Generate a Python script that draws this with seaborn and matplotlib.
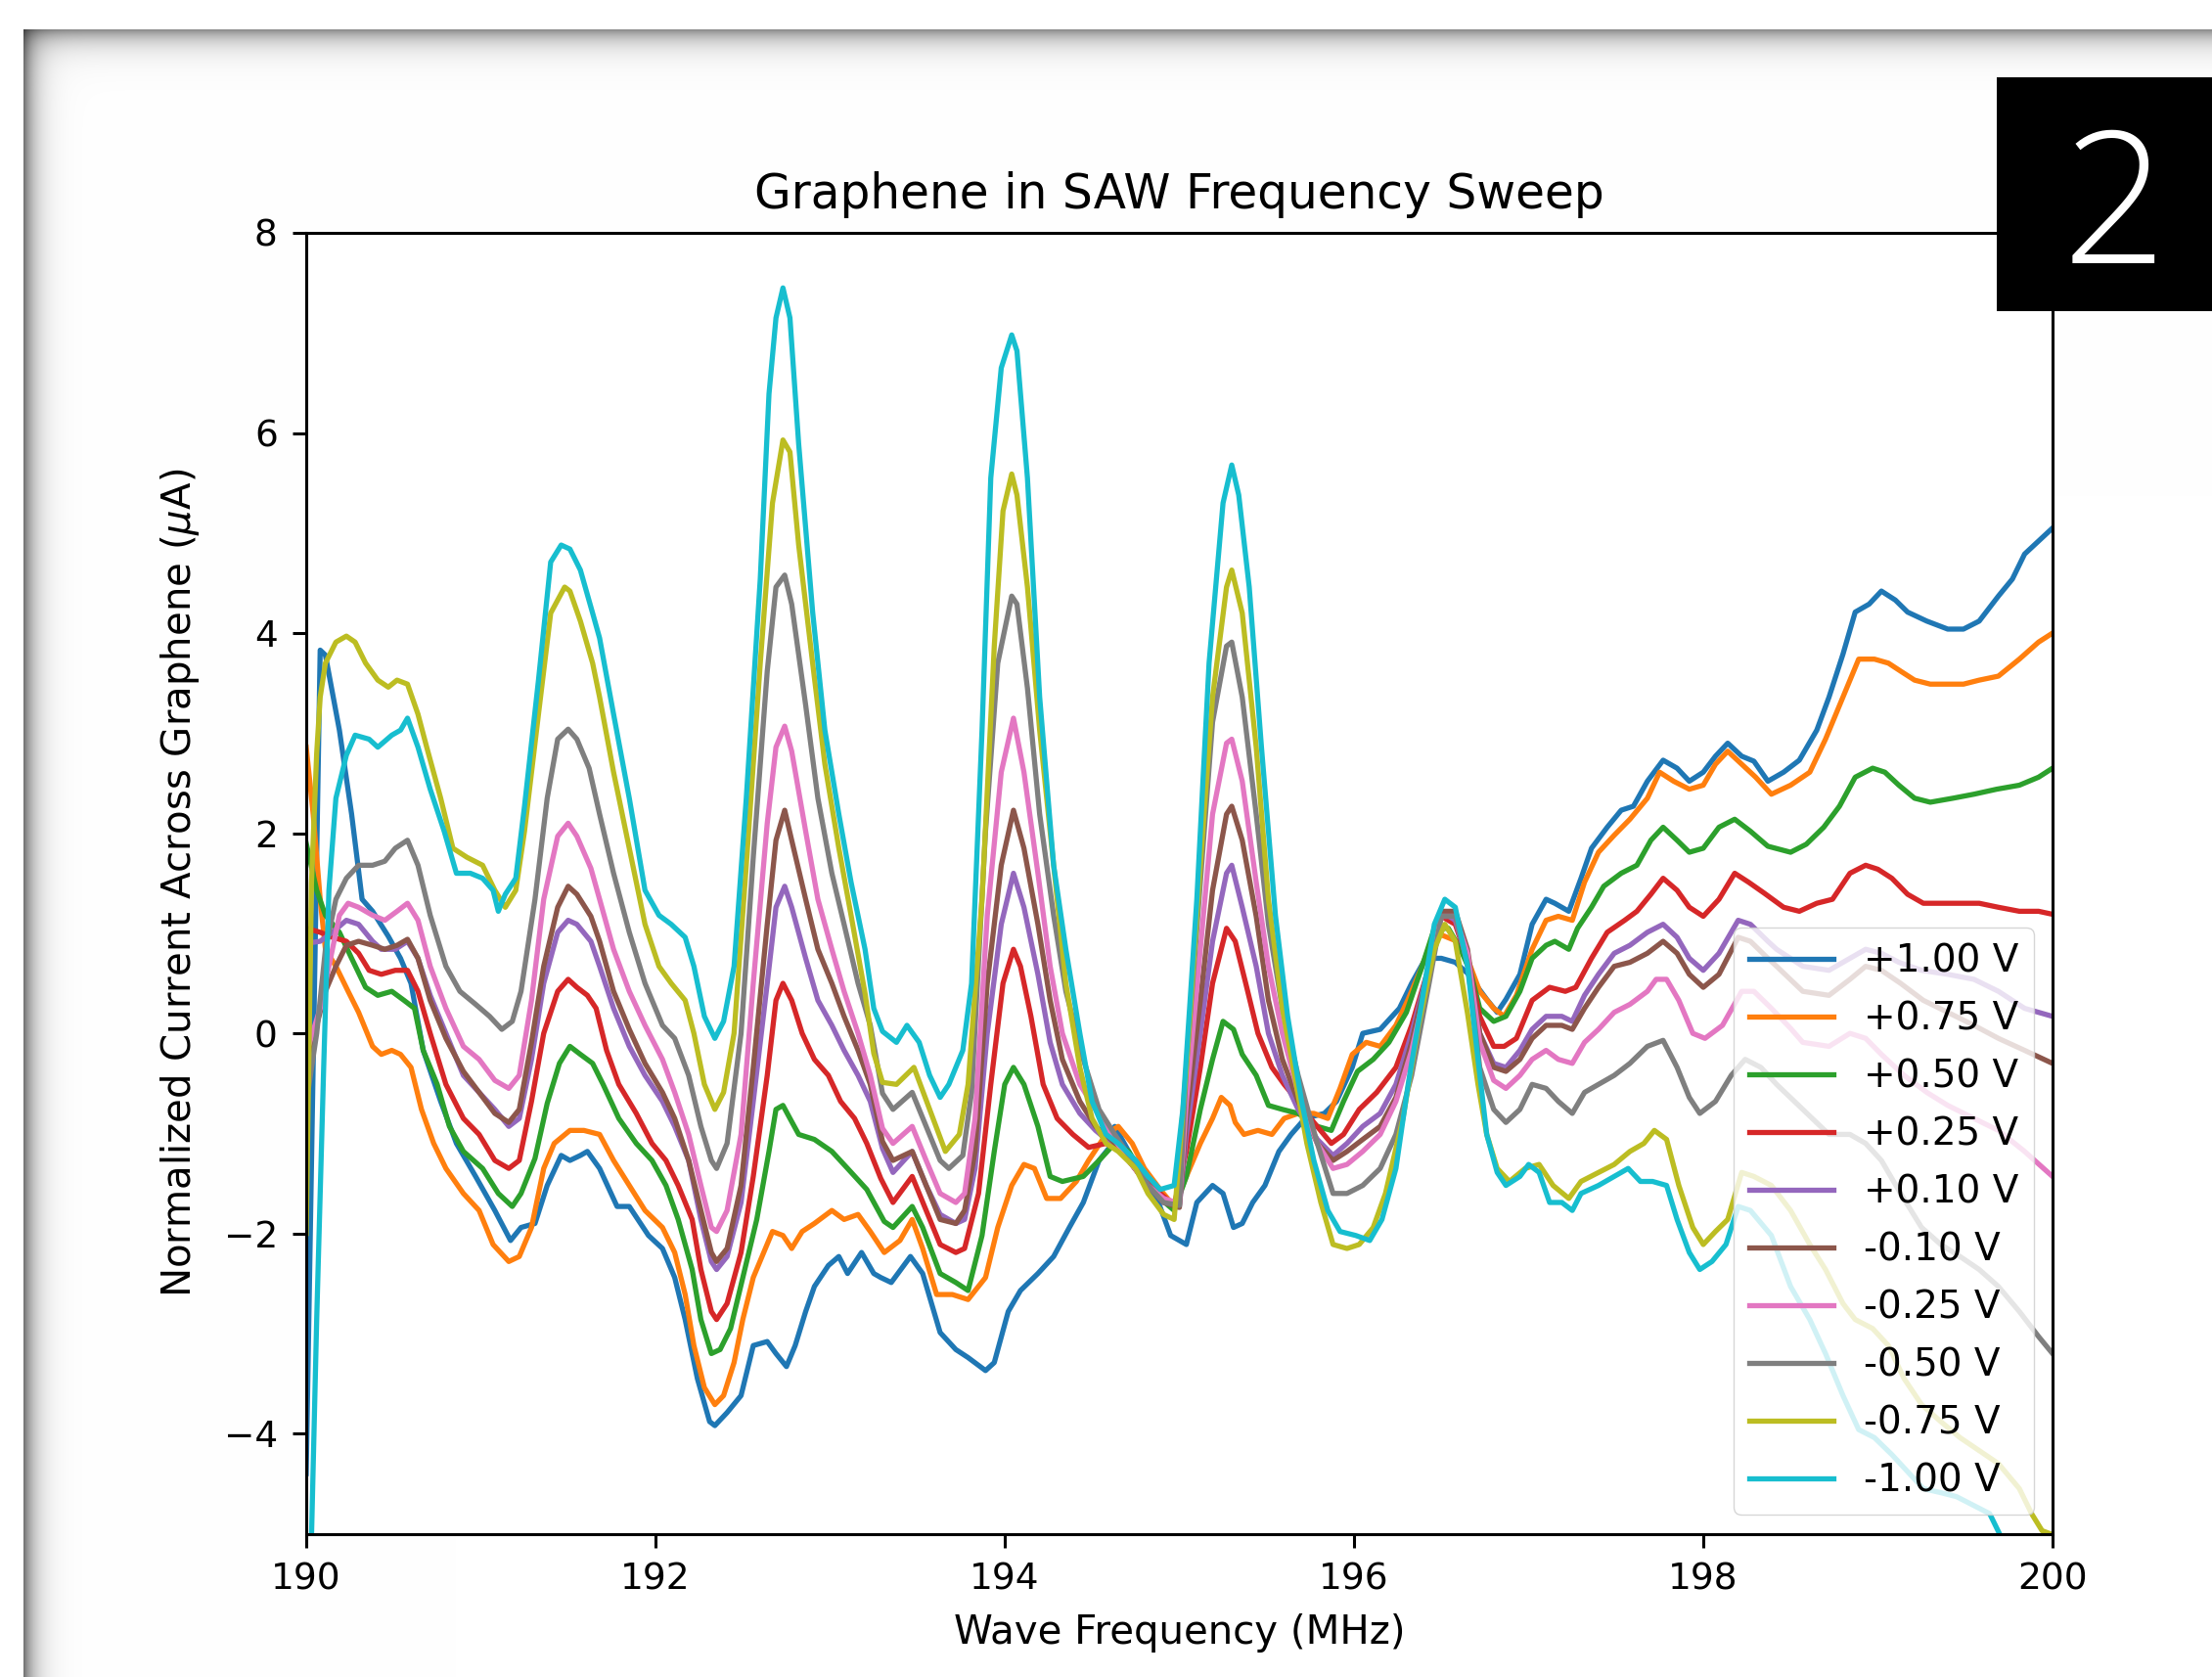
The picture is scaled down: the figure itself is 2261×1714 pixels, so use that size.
import numpy as np
import matplotlib
matplotlib.use("Agg")
import matplotlib.pyplot as plt
import seaborn as sns
from matplotlib.patches import Rectangle

# ---------------- data ----------------
f_p100 = [190.00,190.08,190.11,190.19,190.26,190.32,190.38,190.47,190.54,190.60,190.67,190.77,190.86,190.97,191.08,191.17,191.23,191.31,191.38,191.46,191.51,191.57,
          191.61,191.68,191.78,191.85,191.96,192.04,192.11,192.17,192.24,192.31,192.34,192.41,192.49,192.56,192.64,192.69,192.75,192.80,192.86,192.91,192.99,193.05,193.10,193.18,193.25,
          193.29,193.35,193.46,193.53,193.63,193.72,193.79,193.89,193.94,194.02,194.09,194.19,194.28,194.37,194.45,194.54,194.60,194.63,194.71,194.78,194.88,194.95,
          195.04,195.10,195.19,195.25,195.31,195.36,195.42,195.49,195.57,195.64,195.72,195.83,195.90,195.99,196.05,196.15,196.26,196.33,196.41,196.50,196.58,
          196.65,196.76,196.82,196.87,196.95,197.02,197.10,197.15,197.23,197.30,197.36,197.45,197.53,197.60,197.68,197.77,197.85,197.92,198.00,198.07,198.14,198.22,
          198.29,198.37,198.46,198.55,198.65,198.72,198.80,198.87,198.95,199.02,199.10,199.17,199.28,199.40,199.49,199.58,199.69,199.77,199.84,199.92,200.00]
i_p100 = [-4.40,3.83,3.78,3.03,2.19,1.34,1.22,0.97,0.75,0.50,-0.17,-0.68,-1.10,-1.43,-1.77,-2.07,-1.94,-1.90,-1.52,-1.22,-1.27,-1.22,
          -1.18,-1.35,-1.73,-1.73,-2.02,-2.15,-2.44,-2.86,-3.45,-3.88,-3.92,-3.79,-3.62,-3.12,-3.08,-3.20,-3.33,-3.12,-2.78,-2.53,-2.32,-2.23,-2.40,-2.19,-2.40,
          -2.44,-2.49,-2.23,-2.40,-2.99,-3.16,-3.24,-3.37,-3.29,-2.78,-2.57,-2.40,-2.23,-1.94,-1.69,-1.27,-1.14,-0.93,-1.18,-1.43,-1.69,-2.02,
          -2.11,-1.69,-1.52,-1.60,-1.94,-1.90,-1.69,-1.52,-1.18,-1.01,-0.85,-0.80,-0.68,-0.34,0.00,0.04,0.25,0.50,0.75,0.75,0.71,
          0.60,0.34,0.21,0.34,0.59,1.09,1.34,1.30,1.22,1.55,1.85,2.06,2.23,2.27,2.52,2.73,2.65,2.52,2.61,2.77,2.90,2.77,
          2.72,2.52,2.61,2.73,3.03,3.36,3.79,4.21,4.29,4.42,4.33,4.21,4.12,4.04,4.04,4.12,4.37,4.54,4.79,4.92,5.05]

f_p075 = [190.00,190.04,190.08,190.11,190.17,190.24,190.30,190.38,190.43,190.49,190.54,190.60,190.66,190.73,190.80,190.90,190.99,191.07,191.16,191.22,191.29,191.36,191.42,191.51,191.59,
          191.68,191.76,191.85,191.94,192.04,192.11,192.17,192.22,192.28,192.34,192.39,192.45,192.50,192.56,192.62,192.67,192.73,192.78,192.84,192.91,193.01,193.08,193.16,193.23,
          193.31,193.40,193.47,193.53,193.61,193.70,193.79,193.89,193.96,194.04,194.11,194.17,194.24,194.32,194.41,194.48,194.58,194.65,194.73,194.80,194.89,
          194.97,195.04,195.12,195.19,195.24,195.29,195.32,195.37,195.45,195.53,195.60,195.68,195.77,195.85,195.92,195.99,196.07,196.15,196.24,196.31,196.39,196.46,196.52,196.59,
          196.66,196.72,196.80,196.86,196.93,197.02,197.10,197.17,197.25,197.32,197.40,197.49,197.58,197.68,197.75,197.83,197.92,198.00,198.07,198.14,198.22,
          198.30,198.39,198.50,198.61,198.70,198.80,198.89,198.98,199.06,199.13,199.21,199.30,199.40,199.49,199.58,199.69,199.81,199.92,200.00]
i_p075 = [2.86,2.19,1.34,0.84,0.67,0.42,0.21,-0.13,-0.21,-0.17,-0.21,-0.34,-0.76,-1.10,-1.35,-1.60,-1.77,-2.11,-2.28,-2.23,-1.94,-1.35,-1.10,-0.97,-0.97,
          -1.01,-1.27,-1.52,-1.77,-1.94,-2.19,-2.61,-3.12,-3.54,-3.71,-3.62,-3.29,-2.86,-2.44,-2.19,-1.98,-2.02,-2.15,-1.98,-1.90,-1.77,-1.86,-1.81,-1.98,
          -2.19,-2.07,-1.86,-2.15,-2.61,-2.61,-2.66,-2.44,-1.94,-1.52,-1.31,-1.35,-1.65,-1.65,-1.48,-1.27,-1.01,-0.93,-1.10,-1.35,-1.56,
          -1.73,-1.43,-1.10,-0.85,-0.64,-0.72,-0.89,-1.01,-0.97,-1.01,-0.85,-0.80,-0.80,-0.85,-0.55,-0.21,-0.09,-0.13,0.08,0.34,0.67,1.01,0.97,0.92,
          0.70,0.42,0.25,0.17,0.38,0.84,1.13,1.17,1.13,1.51,1.81,1.98,2.14,2.35,2.61,2.52,2.44,2.48,2.69,2.82,2.69,
          2.56,2.39,2.48,2.61,2.94,3.36,3.74,3.74,3.70,3.62,3.53,3.49,3.49,3.49,3.53,3.57,3.74,3.91,4.00]

f_p050 = [190.00,190.06,190.11,190.19,190.26,190.34,190.41,190.49,190.56,190.62,190.67,190.75,190.82,190.90,191.01,191.10,191.18,191.23,191.31,191.38,191.45,191.51,191.57,
          191.64,191.70,191.79,191.89,191.98,192.06,192.13,192.21,192.26,192.32,192.37,192.43,192.50,192.58,192.65,192.69,192.73,192.77,192.82,192.91,193.01,193.10,193.21,
          193.31,193.36,193.47,193.53,193.63,193.72,193.79,193.87,193.94,194.00,194.05,194.11,194.19,194.26,194.33,194.45,194.54,194.63,194.71,194.80,194.89,
          194.97,195.04,195.12,195.19,195.25,195.31,195.36,195.44,195.51,195.59,195.68,195.79,195.87,195.94,196.02,196.11,196.20,196.30,196.39,196.46,196.54,196.61,
          196.67,196.72,196.80,196.87,196.95,197.02,197.10,197.15,197.23,197.28,197.36,197.43,197.53,197.62,197.70,197.77,197.85,197.92,198.00,198.09,198.18,198.27,
          198.37,198.50,198.59,198.69,198.78,198.87,198.97,199.04,199.12,199.21,199.30,199.43,199.55,199.68,199.81,199.92,200.00]
i_p050 = [1.90,1.43,1.18,1.01,0.75,0.46,0.38,0.42,0.33,0.25,-0.17,-0.51,-0.93,-1.18,-1.35,-1.60,-1.73,-1.60,-1.25,-0.70,-0.30,-0.13,-0.21,
          -0.30,-0.51,-0.85,-1.10,-1.27,-1.52,-1.86,-2.36,-2.86,-3.20,-3.16,-2.95,-2.44,-1.86,-1.18,-0.76,-0.72,-0.85,-1.01,-1.06,-1.18,-1.35,-1.56,
          -1.88,-1.94,-1.73,-1.94,-2.40,-2.49,-2.57,-2.02,-1.18,-0.51,-0.34,-0.51,-0.93,-1.43,-1.48,-1.43,-1.27,-1.10,-1.18,-1.43,-1.65,
          -1.77,-1.43,-0.76,-0.26,0.12,0.04,-0.21,-0.42,-0.72,-0.76,-0.80,-0.93,-0.97,-0.68,-0.38,-0.26,-0.09,0.21,0.67,1.05,1.05,0.84,
          0.60,0.25,0.12,0.17,0.42,0.75,0.88,0.92,0.84,1.05,1.26,1.47,1.60,1.68,1.93,2.06,1.93,1.81,1.85,2.06,2.14,2.02,
          1.87,1.81,1.89,2.06,2.27,2.56,2.65,2.61,2.48,2.35,2.31,2.35,2.39,2.44,2.48,2.56,2.65]

f_p025 = [190.00,190.08,190.15,190.23,190.30,190.36,190.43,190.51,190.58,190.64,190.71,190.80,190.90,190.99,191.08,191.16,191.22,191.29,191.36,191.44,191.50,191.55,
          191.61,191.66,191.72,191.79,191.89,191.98,192.06,192.13,192.21,192.26,192.32,192.35,192.41,192.49,192.56,192.64,192.69,192.73,192.78,192.84,192.91,192.99,193.06,193.14,193.21,
          193.29,193.36,193.47,193.55,193.63,193.72,193.77,193.85,193.92,193.99,194.05,194.09,194.15,194.22,194.30,194.39,194.48,194.58,194.67,194.78,194.89,
          194.97,195.04,195.12,195.19,195.27,195.32,195.38,195.45,195.53,195.60,195.68,195.77,195.87,195.94,196.03,196.13,196.24,196.33,196.43,196.50,196.58,
          196.65,196.72,196.80,196.86,196.93,197.02,197.12,197.21,197.27,197.36,197.45,197.55,197.62,197.70,197.77,197.85,197.92,198.00,198.09,198.18,198.26,
          198.35,198.46,198.55,198.65,198.74,198.84,198.93,199.00,199.08,199.17,199.26,199.40,199.49,199.58,199.69,199.81,199.92,200.00]
i_p025 = [1.05,1.01,0.96,0.92,0.80,0.63,0.59,0.63,0.63,0.42,0.00,-0.51,-0.85,-1.01,-1.27,-1.35,-1.27,-0.68,0.00,0.42,0.54,0.46,
          0.38,0.25,-0.17,-0.51,-0.80,-1.10,-1.27,-1.52,-1.86,-2.36,-2.78,-2.86,-2.70,-2.19,-1.43,-0.42,0.33,0.50,0.33,0.00,-0.26,-0.42,-0.68,-0.85,-1.10,
          -1.45,-1.69,-1.43,-1.77,-2.11,-2.19,-2.15,-1.60,-0.51,0.50,0.84,0.67,0.17,-0.51,-0.85,-1.01,-1.14,-1.10,-1.18,-1.43,-1.60,
          -1.72,-1.18,-0.34,0.50,1.05,0.92,0.50,0.00,-0.34,-0.51,-0.68,-0.89,-1.10,-1.01,-0.76,-0.59,-0.34,0.08,0.67,1.17,1.09,
          0.73,0.17,-0.13,-0.13,-0.05,0.33,0.46,0.42,0.46,0.75,1.01,1.13,1.22,1.39,1.55,1.43,1.26,1.17,1.34,1.60,1.51,
          1.40,1.26,1.22,1.30,1.34,1.60,1.68,1.64,1.55,1.39,1.30,1.30,1.30,1.30,1.26,1.22,1.22,1.19]

f_p010 = [190.00,190.08,190.15,190.23,190.30,190.38,190.43,190.51,190.58,190.64,190.71,190.80,190.90,190.99,191.08,191.16,191.22,191.29,191.36,191.44,191.50,191.55,
          191.63,191.68,191.76,191.85,191.94,192.04,192.11,192.19,192.26,192.32,192.35,192.41,192.49,192.56,192.64,192.69,192.74,192.78,192.86,192.93,193.01,193.08,193.16,193.23,
          193.30,193.36,193.47,193.55,193.63,193.72,193.77,193.83,193.90,193.98,194.05,194.11,194.19,194.26,194.33,194.43,194.52,194.61,194.71,194.82,194.91,
          195.00,195.04,195.12,195.19,195.27,195.30,195.36,195.44,195.51,195.59,195.68,195.79,195.88,195.96,196.05,196.15,196.24,196.33,196.43,196.50,196.58,
          196.65,196.72,196.80,196.87,196.95,197.02,197.10,197.19,197.25,197.32,197.40,197.49,197.58,197.68,197.77,197.85,197.92,198.00,198.09,198.20,198.27,
          198.37,198.42,198.57,198.72,198.84,198.93,199.02,199.12,199.25,199.40,199.55,199.69,199.84,200.00]
i_p010 = [0.90,0.92,1.01,1.13,1.09,0.92,0.84,0.84,0.92,0.75,0.38,0.00,-0.42,-0.59,-0.76,-0.93,-0.85,-0.26,0.50,1.01,1.13,1.09,
          0.92,0.67,0.25,-0.13,-0.42,-0.68,-0.93,-1.27,-1.86,-2.28,-2.36,-2.23,-1.69,-0.68,0.50,1.26,1.47,1.26,0.75,0.33,0.08,-0.17,-0.42,-0.68,
          -1.15,-1.39,-1.18,-1.52,-1.81,-1.90,-1.86,-1.35,0.00,1.09,1.60,1.26,0.59,-0.09,-0.51,-0.80,-0.97,-1.10,-1.27,-1.52,-1.69,
          -1.73,-1.01,0.00,0.92,1.60,1.68,1.26,0.67,0.00,-0.42,-0.76,-1.06,-1.22,-1.10,-0.93,-0.80,-0.51,0.00,0.67,1.22,1.13,
          0.72,0.00,-0.30,-0.34,-0.17,0.04,0.17,0.17,0.12,0.38,0.59,0.80,0.88,1.01,1.09,0.96,0.75,0.63,0.80,1.13,1.09,
          0.92,0.84,0.67,0.63,0.75,0.84,0.80,0.71,0.63,0.59,0.54,0.42,0.25,0.17]

f_m010 = [190.00,190.06,190.11,190.17,190.23,190.30,190.38,190.45,190.52,190.58,190.64,190.71,190.80,190.90,190.99,191.08,191.16,191.22,191.29,191.36,191.44,191.50,191.55,
          191.63,191.68,191.76,191.85,191.94,192.04,192.11,192.19,192.26,192.32,192.35,192.41,192.49,192.56,192.64,192.69,192.74,192.78,192.86,192.93,193.01,193.08,193.16,193.23,
          193.30,193.36,193.47,193.55,193.63,193.72,193.77,193.83,193.90,193.98,194.05,194.11,194.19,194.26,194.33,194.43,194.52,194.61,194.71,194.82,194.91,
          195.00,195.04,195.12,195.19,195.27,195.30,195.36,195.44,195.51,195.59,195.68,195.79,195.88,195.96,196.05,196.15,196.24,196.33,196.43,196.50,196.58,
          196.65,196.72,196.80,196.87,196.95,197.02,197.10,197.19,197.25,197.32,197.40,197.49,197.58,197.68,197.77,197.85,197.92,198.00,198.09,198.20,198.27,
          198.37,198.42,198.57,198.72,198.84,198.93,199.02,199.13,199.26,199.40,199.55,199.69,199.84,200.00]
i_m010 = [-0.40,0.08,0.42,0.67,0.88,0.92,0.88,0.84,0.88,0.94,0.75,0.33,-0.05,-0.38,-0.59,-0.80,-0.89,-0.76,-0.09,0.67,1.26,1.47,1.39,
          1.17,0.92,0.42,0.04,-0.30,-0.59,-0.85,-1.27,-1.77,-2.19,-2.28,-2.15,-1.52,-0.34,1.09,1.93,2.23,1.93,1.34,0.84,0.50,0.17,-0.17,-0.51,
          -1.08,-1.27,-1.18,-1.52,-1.86,-1.90,-1.77,-1.18,0.50,1.68,2.23,1.85,1.09,0.33,-0.26,-0.68,-0.93,-1.06,-1.27,-1.52,-1.69,
          -1.74,-0.85,0.33,1.43,2.19,2.27,1.93,1.17,0.33,-0.26,-0.68,-1.10,-1.27,-1.18,-1.06,-0.93,-0.64,-0.09,0.67,1.22,1.22,
          0.84,0.00,-0.34,-0.38,-0.26,-0.05,0.08,0.08,0.04,0.25,0.46,0.67,0.71,0.80,0.92,0.80,0.59,0.46,0.59,0.96,0.92,
          0.75,0.67,0.42,0.38,0.54,0.67,0.63,0.50,0.33,0.21,0.08,-0.05,-0.17,-0.30]

f_m025 = [190.00,190.08,190.13,190.19,190.24,190.30,190.38,190.45,190.52,190.58,190.64,190.71,190.80,190.90,190.99,191.08,191.16,191.22,191.29,191.36,191.44,191.50,191.55,
          191.63,191.68,191.76,191.85,191.94,192.04,192.11,192.19,192.26,192.32,192.35,192.41,192.49,192.56,192.64,192.69,192.74,192.78,192.86,192.93,193.01,193.08,193.16,193.23,
          193.30,193.36,193.47,193.55,193.63,193.72,193.77,193.83,193.90,193.98,194.05,194.11,194.19,194.26,194.33,194.43,194.52,194.61,194.71,194.82,194.91,
          195.00,195.04,195.12,195.19,195.27,195.30,195.36,195.44,195.51,195.59,195.68,195.79,195.88,195.96,196.05,196.15,196.24,196.33,196.43,196.50,196.58,
          196.65,196.72,196.80,196.87,196.95,197.02,197.10,197.17,197.25,197.32,197.40,197.49,197.58,197.68,197.73,197.79,197.86,197.94,198.01,198.11,198.22,198.29,
          198.39,198.50,198.57,198.72,198.84,198.93,199.02,199.15,199.28,199.40,199.55,199.69,199.84,200.00]
i_m025 = [-0.20,0.25,0.67,1.18,1.30,1.26,1.18,1.13,1.22,1.30,1.13,0.67,0.25,-0.13,-0.26,-0.47,-0.55,-0.42,0.33,1.34,1.97,2.10,1.97,
          1.65,1.34,0.84,0.42,0.08,-0.26,-0.59,-1.01,-1.52,-1.94,-1.98,-1.77,-1.01,0.50,2.10,2.86,3.07,2.82,2.02,1.34,0.84,0.42,0.00,-0.42,
          -0.95,-1.10,-0.93,-1.27,-1.60,-1.69,-1.60,-0.85,1.18,2.61,3.15,2.61,1.60,0.67,0.00,-0.51,-0.76,-1.01,-1.27,-1.52,-1.65,
          -1.70,-0.68,0.84,2.19,2.90,2.94,2.52,1.51,0.67,0.00,-0.59,-1.10,-1.35,-1.31,-1.18,-1.01,-0.68,-0.17,0.59,1.17,1.17,
          0.80,-0.09,-0.47,-0.55,-0.42,-0.26,-0.17,-0.26,-0.30,-0.09,0.04,0.21,0.29,0.42,0.54,0.54,0.33,0.00,-0.05,0.08,0.42,0.42,
          0.25,0.05,-0.09,-0.13,0.00,-0.05,-0.21,-0.42,-0.59,-0.72,-0.85,-0.97,-1.18,-1.43]

f_m050 = [190.00,190.06,190.11,190.17,190.23,190.30,190.38,190.45,190.51,190.58,190.64,190.71,190.80,190.88,190.97,191.05,191.12,191.18,191.23,191.31,191.38,191.44,191.50,191.55,
          191.62,191.68,191.76,191.85,191.94,192.04,192.11,192.19,192.26,192.32,192.35,192.41,192.49,192.56,192.64,192.69,192.74,192.78,192.86,192.93,193.01,193.08,193.16,193.23,
          193.30,193.36,193.47,193.55,193.63,193.68,193.76,193.81,193.89,193.96,194.04,194.07,194.13,194.20,194.28,194.35,194.45,194.54,194.63,194.73,194.82,194.91,
          195.00,195.04,195.12,195.19,195.27,195.30,195.36,195.44,195.51,195.59,195.68,195.79,195.88,195.96,196.05,196.15,196.24,196.33,196.43,196.50,196.58,
          196.65,196.72,196.80,196.87,196.95,197.02,197.10,197.17,197.25,197.32,197.40,197.49,197.58,197.68,197.77,197.85,197.92,197.98,198.07,198.16,198.24,
          198.33,198.42,198.57,198.72,198.84,198.93,199.02,199.13,199.25,199.36,199.47,199.58,199.69,199.81,199.92,200.00]
i_m050 = [-0.70,0.00,0.84,1.34,1.55,1.68,1.68,1.72,1.85,1.93,1.68,1.18,0.67,0.42,0.29,0.17,0.04,0.12,0.42,1.34,2.35,2.94,3.04,2.94,
          2.65,2.19,1.60,1.01,0.50,0.08,-0.05,-0.42,-0.93,-1.27,-1.35,-1.10,0.00,1.76,3.62,4.46,4.58,4.29,3.28,2.35,1.60,1.09,0.50,0.08,
          -0.60,-0.76,-0.59,-0.93,-1.27,-1.35,-1.22,-0.59,2.02,3.70,4.37,4.29,3.45,2.19,1.18,0.42,-0.26,-0.76,-1.01,-1.27,-1.52,-1.69,
          -1.72,-0.34,1.51,3.11,3.87,3.91,3.36,2.19,1.09,0.25,-0.42,-1.10,-1.60,-1.60,-1.52,-1.35,-1.01,-0.42,0.50,1.17,1.17,
          0.70,-0.34,-0.76,-0.89,-0.76,-0.51,-0.55,-0.68,-0.80,-0.59,-0.51,-0.42,-0.30,-0.13,-0.07,-0.34,-0.64,-0.80,-0.68,-0.42,-0.26,
          -0.34,-0.51,-0.76,-1.01,-1.01,-1.10,-1.27,-1.60,-1.94,-2.11,-2.23,-2.36,-2.53,-2.78,-3.03,-3.20]

f_m075 = [190.00,190.03,190.06,190.08,190.11,190.17,190.23,190.28,190.34,190.41,190.47,190.52,190.58,190.64,190.69,190.77,190.84,190.92,191.01,191.08,191.14,191.20,191.25,191.33,191.40,191.48,191.51,191.57,
          191.64,191.68,191.76,191.85,191.94,192.02,192.09,192.17,192.22,192.28,192.34,192.39,192.45,192.52,192.60,192.67,192.73,192.77,192.82,192.90,192.97,193.05,193.12,193.20,193.25,
          193.30,193.38,193.48,193.57,193.66,193.74,193.79,193.87,193.94,193.99,194.04,194.07,194.13,194.20,194.28,194.35,194.43,194.50,194.58,194.65,194.75,194.82,194.91,
          194.97,195.04,195.12,195.19,195.27,195.30,195.36,195.44,195.51,195.59,195.66,195.73,195.81,195.88,195.96,196.03,196.11,196.18,196.28,196.37,196.46,196.52,196.58,
          196.65,196.71,196.76,196.82,196.89,196.98,197.06,197.14,197.23,197.30,197.40,197.49,197.58,197.66,197.72,197.79,197.86,197.94,198.00,198.07,198.14,198.22,198.29,
          198.39,198.50,198.61,198.70,198.80,198.87,198.97,199.06,199.15,199.25,199.36,199.47,199.58,199.69,199.81,199.88,199.94,200.00]
i_m075 = [-2.00,1.50,2.80,3.36,3.70,3.91,3.97,3.91,3.70,3.53,3.46,3.53,3.49,3.19,2.86,2.35,1.85,1.76,1.68,1.43,1.26,1.43,2.02,3.19,4.20,4.46,4.42,4.12,
          3.70,3.36,2.61,1.85,1.09,0.67,0.50,0.33,0.00,-0.51,-0.76,-0.59,0.00,1.68,3.70,5.30,5.93,5.81,4.88,3.70,2.69,1.85,1.18,0.40,-0.20,
          -0.49,-0.51,-0.34,-0.76,-1.18,-1.01,-0.51,1.34,3.87,5.22,5.59,5.38,4.46,3.03,1.68,0.50,-0.34,-0.85,-1.10,-1.18,-1.35,-1.60,-1.81,
          -1.86,-0.34,1.68,3.36,4.46,4.63,4.20,2.86,1.34,0.25,-0.42,-1.10,-1.69,-2.11,-2.15,-2.11,-1.94,-1.60,-0.85,0.08,0.84,1.09,0.92,
          0.20,-0.51,-1.01,-1.35,-1.48,-1.35,-1.31,-1.52,-1.65,-1.48,-1.39,-1.31,-1.18,-1.10,-0.97,-1.06,-1.52,-1.94,-2.11,-1.98,-1.86,-1.39,-1.43,
          -1.52,-1.77,-2.11,-2.36,-2.70,-2.86,-2.95,-3.12,-3.45,-3.71,-3.88,-4.04,-4.17,-4.30,-4.55,-4.80,-4.97,-5.01]

f_m100 = [190.00,190.03,190.06,190.10,190.13,190.17,190.23,190.28,190.36,190.41,190.49,190.54,190.58,190.64,190.71,190.79,190.86,190.94,191.01,191.07,191.10,191.14,191.20,191.25,191.33,191.40,191.46,191.51,191.57,
          191.64,191.68,191.76,191.85,191.94,192.02,192.09,192.17,192.22,192.28,192.34,192.39,192.45,192.52,192.60,192.65,192.69,192.73,192.77,192.82,192.90,192.97,193.05,193.12,193.20,193.25,
          193.30,193.38,193.44,193.51,193.57,193.63,193.68,193.76,193.81,193.87,193.92,193.98,194.04,194.07,194.13,194.20,194.28,194.35,194.43,194.50,194.58,194.65,194.75,194.82,194.89,
          194.97,195.02,195.10,195.17,195.25,195.30,195.34,195.40,195.47,195.55,195.62,195.70,195.77,195.85,195.92,196.01,196.09,196.16,196.24,196.31,196.39,196.46,196.52,196.58,
          196.65,196.71,196.76,196.82,196.87,196.95,197.00,197.06,197.12,197.19,197.25,197.30,197.40,197.49,197.57,197.64,197.71,197.79,197.85,197.92,197.98,198.05,198.13,198.20,198.27,
          198.39,198.50,198.61,198.70,198.80,198.89,198.98,199.08,199.17,199.26,199.36,199.45,199.55,199.64,199.71,199.77,199.85]
i_m100 = [-6.00,-5.05,-2.86,-0.34,1.43,2.35,2.78,2.98,2.94,2.86,2.98,3.03,3.15,2.86,2.44,2.02,1.60,1.60,1.55,1.43,1.22,1.39,1.55,2.27,3.53,4.71,4.88,4.84,4.63,
          4.20,3.95,3.19,2.35,1.43,1.18,1.09,0.96,0.67,0.17,-0.05,0.12,0.67,2.35,4.54,6.39,7.15,7.45,7.15,5.89,4.21,3.03,2.19,1.51,0.84,0.25,
          0.02,-0.09,0.08,-0.09,-0.42,-0.64,-0.51,-0.17,0.50,3.03,5.55,6.65,6.98,6.82,5.55,3.36,1.68,0.84,0.00,-0.68,-1.01,-1.10,-1.27,-1.43,-1.56,
          -1.52,-0.76,1.34,3.70,5.30,5.68,5.38,4.46,2.86,1.18,0.17,-0.68,-1.27,-1.77,-1.98,-2.02,-2.07,-1.86,-1.35,-0.51,0.33,1.09,1.34,1.26,
          0.67,-0.26,-1.01,-1.39,-1.52,-1.43,-1.31,-1.39,-1.69,-1.69,-1.77,-1.60,-1.52,-1.43,-1.35,-1.48,-1.48,-1.52,-1.86,-2.19,-2.36,-2.28,-2.11,-1.73,-1.77,
          -2.02,-2.53,-2.86,-3.20,-3.62,-3.96,-4.04,-4.21,-4.38,-4.55,-4.59,-4.63,-4.72,-4.80,-5.05,-5.40,-5.80]

labels = ["+1.00 V", "+0.75 V", "+0.50 V", "+0.25 V", "+0.10 V",
          "-0.10 V", "-0.25 V", "-0.50 V", "-0.75 V", "-1.00 V"]
freqs = [f_p100, f_p075, f_p050, f_p025, f_p010, f_m010, f_m025, f_m050, f_m075, f_m100]
currents = [i_p100, i_p075, i_p050, i_p025, i_p010, i_m010, i_m025, i_m050, i_m075, i_m100]

title = "Graphene in SAW Frequency Sweep"
xlabel = "Wave Frequency (MHz)"
ylabel = r"Normalized Current Across Graphene ($\mu$A)"
badge = "2"

# ---------------- figure ----------------
W, H = 2261, 1714
fig = plt.figure(figsize=(W / 100, H / 100), dpi=100, facecolor="white")

# slide-frame inner shadow (decoration)
yy, xx = np.mgrid[0:H, 0:W].astype(float)
top0, left0 = 30.0, 24.0
dt = yy - top0
dl = xx - left0
shade_t = np.where(dt >= 0, 0.45 * np.exp(-np.clip(dt, 0, None) / 13.0), 0.0)
shade_l = np.where(dl >= 0, 0.55 * np.exp(-np.clip(dl, 0, None) / 12.0), 0.0)
g = (1 - shade_t) * (1 - shade_l)
g[(dt < 0) | (dl < 0)] = 1.0
img = np.dstack([g, g, g, np.ones_like(g)])
fig.figimage(img, xo=0, yo=0, origin="upper", zorder=-5)

ax = fig.add_axes([313 / W, 1 - 1567.5 / H, (2098 - 313) / W, (1567.5 - 238) / H])
ax.set_facecolor("white")

palette = sns.color_palette("tab10", 10)
for fx, cy, lab, col in zip(freqs, currents, labels, palette):
    sns.lineplot(x=fx, y=cy, ax=ax, color=col, label=lab, linewidth=3.8,
                 estimator=None, sort=False)

ax.set_xlim(190, 200)
ax.set_ylim(-5, 8)
ax.set_xticks([190, 192, 194, 196, 198, 200])
ax.set_yticks([-4, -2, 0, 2, 4, 6, 8])
ax.tick_params(labelsize=27, length=10, width=2.2, pad=11)
for s in ax.spines.values():
    s.set_linewidth(2.2)
ax.set_title(title, fontsize=35, pad=18)
ax.set_xlabel(xlabel, fontsize=29, labelpad=12)
ax.set_ylabel(ylabel, fontsize=29, labelpad=16)

leg = ax.legend(loc="lower right", fontsize=28, handlelength=2.2,
                labelspacing=0.54, framealpha=0.8)
for ln in leg.get_lines():
    ln.set_linewidth(3.8)

# corner badge
fig.add_artist(Rectangle((2041 / W, 1 - 318 / H), (W - 2041) / W, (318 - 79) / H,
                         transform=fig.transFigure, facecolor="black",
                         edgecolor="none", zorder=10))
fig.text(2161 / W, 1 - 220 / H, badge, color="white", fontsize=135,
         family=["Open Sans", "DejaVu Sans"], fontweight="light",
         ha="center", va="center", zorder=11)

fig.savefig("out.png", dpi=100, facecolor="white")
